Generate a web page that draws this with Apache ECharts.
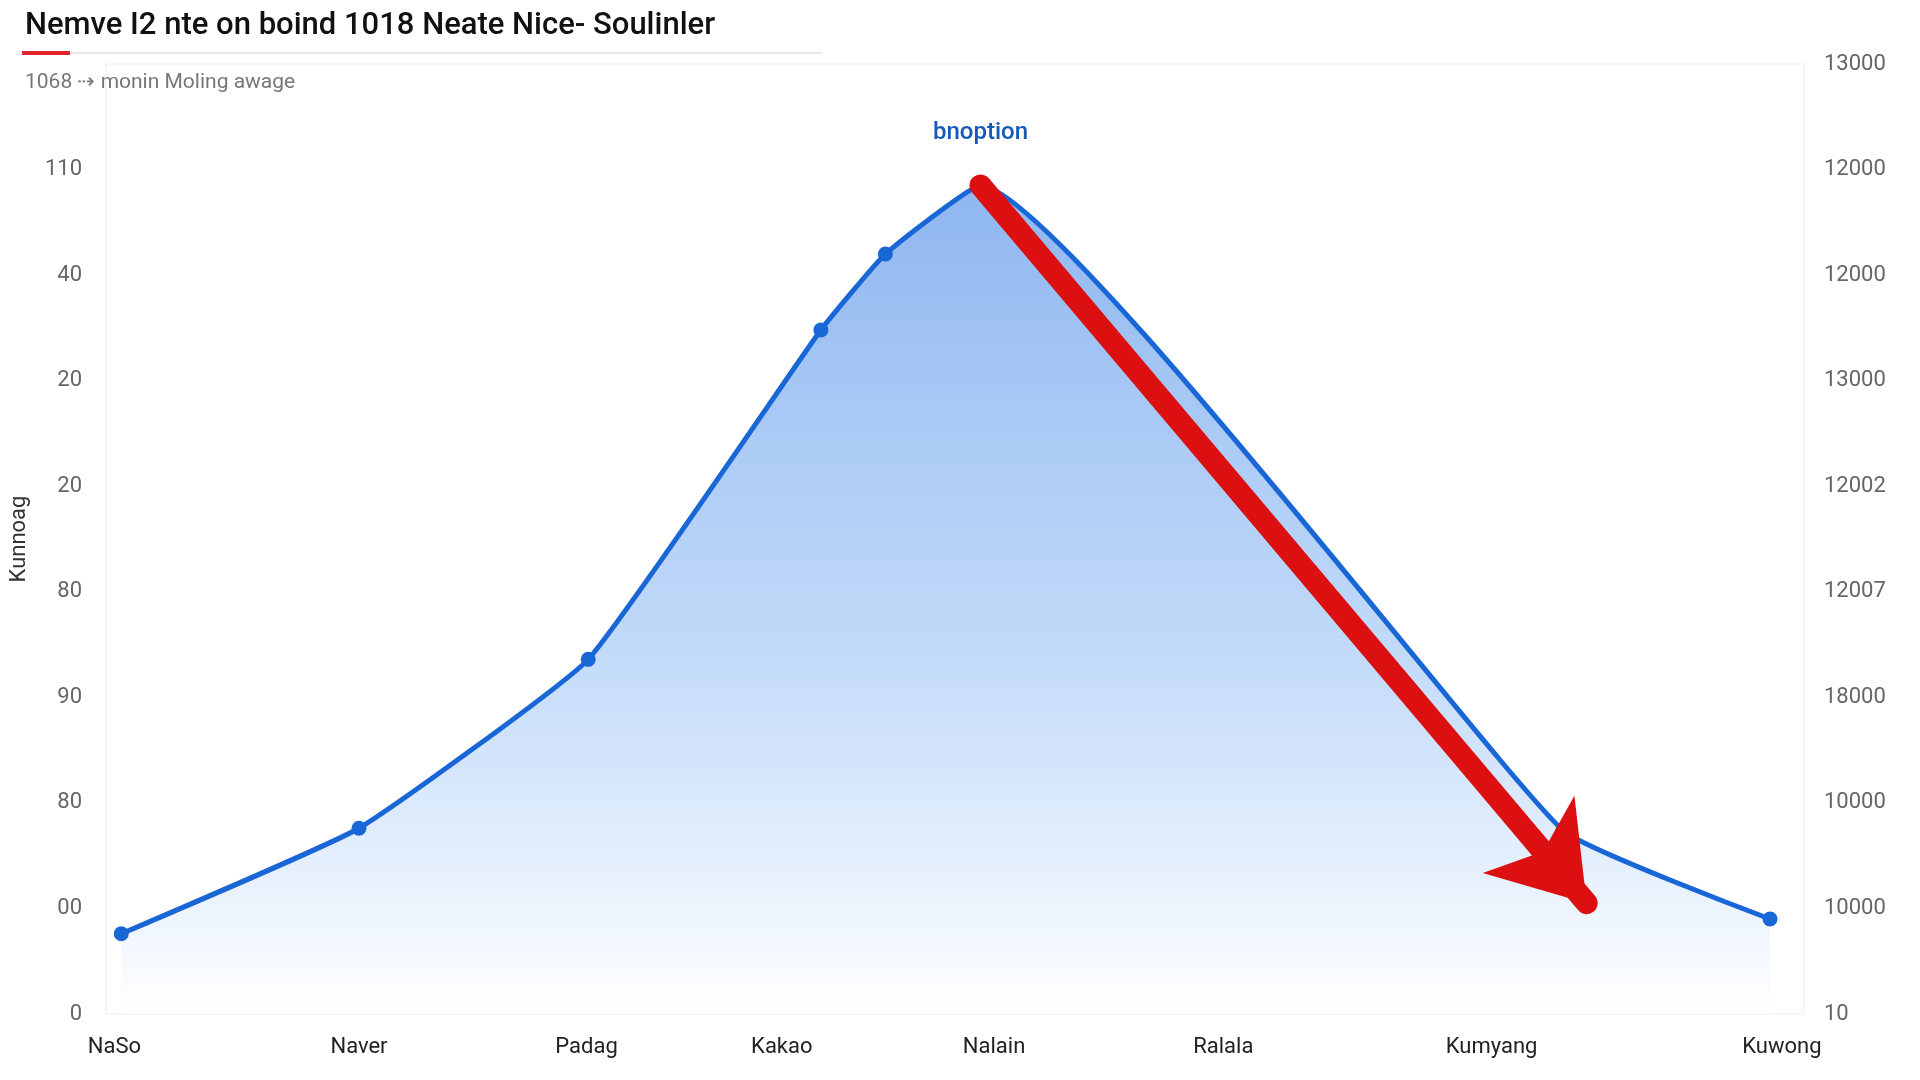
<!DOCTYPE html>
<html>
<head>
<meta charset="utf-8">
<script src="https://cdn.jsdelivr.net/npm/echarts@6/dist/echarts.min.js"></script>
<style>
	html, body { margin: 0; padding: 0; background: #fff; }
	#chart { width: 1920px; height: 1080px; }
</style>
</head>
<body>
<div id="chart"></div>
<script>
// data: x positions in percent of plot width, y on a 0..9 scale
var pointX = [0.9, 14.9, 28.4, 42.1, 45.9, 51.5, 85.8, 98.0];
var pointY = [0.76, 1.76, 3.36, 6.48, 7.2, 7.85, 1.74, 0.9];
var catLabels = ['NaSo', 'Naver', 'Padag', 'Kakao', 'Nalain', 'Ralala', 'Kumyang', 'Kuwong'];
var catPos = [0.5, 14.9, 28.3, 39.8, 52.3, 65.8, 81.6, 98.7];
var leftTicks = ['0', '00', '80', '90', '80', '20', '20', '40', '110', ''];
var rightTicks = ['10', '10000', '10000', '18000', '12007', '12002', '13000', '12000', '12000', '13000'];
var arrowFrom = [51.5, 7.85];
var arrowTo = [87.2, 1.05];

var chart = echarts.init(document.getElementById('chart'));
var seriesData = pointX.map(function (x, i) { return [x, pointY[i]]; });
var tickFont = { color: '#666', fontSize: 22, fontFamily: 'Roboto, sans-serif' };

chart.setOption({
	backgroundColor: '#fff',
	animation: false,
	title: {
		text: 'Nemve I2 nte on boind 1018 Neate Nice- Soulinler',
		left: 20, top: 6,
		textStyle: { color: '#111', fontSize: 31, fontWeight: 500, fontFamily: 'Roboto, sans-serif' },
		subtext: '1068 \u21e2 monin Moling awage',
		itemGap: 30,
		subtextStyle: { color: '#777', fontSize: 21, fontFamily: 'Roboto, sans-serif' }
	},
	graphic: [
		{ type: 'rect', left: 22, top: 52, shape: { width: 800, height: 2 }, style: { fill: '#e6e6e6' } },
		{ type: 'rect', left: 22, top: 51, shape: { width: 48, height: 4 }, style: { fill: '#e0262b' } }
	],
	grid: {
		left: 98, right: 116, top: 64, bottom: 66,
		show: true, borderColor: '#ececec', borderWidth: 1
	},
	xAxis: {
		type: 'value', min: 0, max: 100,
		splitLine: { show: false },
		axisLine: { show: false },
		axisTick: { show: false },
		axisLabel: {
			customValues: catPos,
			formatter: function (v) {
				var i = catPos.indexOf(v);
				return i >= 0 ? catLabels[i] : '';
			},
			margin: 22,
			color: '#222', fontSize: 22, fontFamily: 'Roboto, sans-serif'
		}
	},
	yAxis: [{
		type: 'value', min: 0, max: 9, interval: 1,
		name: 'Kunnoag', nameLocation: 'middle', nameGap: 76, nameRotate: 90,
		nameTextStyle: { color: '#333', fontSize: 22, fontFamily: 'Roboto, sans-serif' },
		splitLine: { show: false },
		axisLine: { show: false },
		axisTick: { show: false },
		axisLabel: Object.assign({ margin: 24, formatter: function (v) { return leftTicks[v] || ''; } }, tickFont)
	}, {
		type: 'value', min: 0, max: 9, interval: 1, position: 'right',
		splitLine: { show: false },
		axisLine: { show: false },
		axisTick: { show: false },
		axisLabel: Object.assign({ margin: 20, formatter: function (v) { return rightTicks[v] || ''; } }, tickFont)
	}],
	series: [{
		type: 'line',
		data: seriesData,
		smooth: 0.12,
		symbol: 'circle',
		symbolSize: 15,
		lineStyle: { color: '#1966d6', width: 5 },
		itemStyle: { color: '#1966d6' },
		areaStyle: {
			color: new echarts.graphic.LinearGradient(0, 0, 0, 1, [
				{ offset: 0, color: 'rgba(85,145,232,0.95)' },
				{ offset: 0.55, color: 'rgba(150,192,245,0.85)' },
				{ offset: 1, color: 'rgba(255,255,255,0.9)' }
			])
		},
		markPoint: {
			symbol: 'circle', symbolSize: 1,
			label: { show: true, fontFamily: 'Roboto, sans-serif', fontSize: 24, fontWeight: 500, color: '#1458b8' },
			data: [
				{ coord: [51.5, 8.35], value: 'bnoption', label: { formatter: 'bnoption' } },
				{ coord: [101.5, 0.75], value: '10', label: { formatter: '10', fontWeight: 'bold', fontSize: 22, color: '#1966d6' } }
			]
		},
		markLine: {
			silent: true,
			symbol: ['none', 'arrow'],
			symbolSize: 90,
			lineStyle: { color: '#dc1010', width: 22, type: 'solid', cap: 'round' },
			label: { show: false },
			data: [[{ coord: arrowFrom }, { coord: arrowTo }]]
		}
	}]
});
</script>
</body>
</html>
